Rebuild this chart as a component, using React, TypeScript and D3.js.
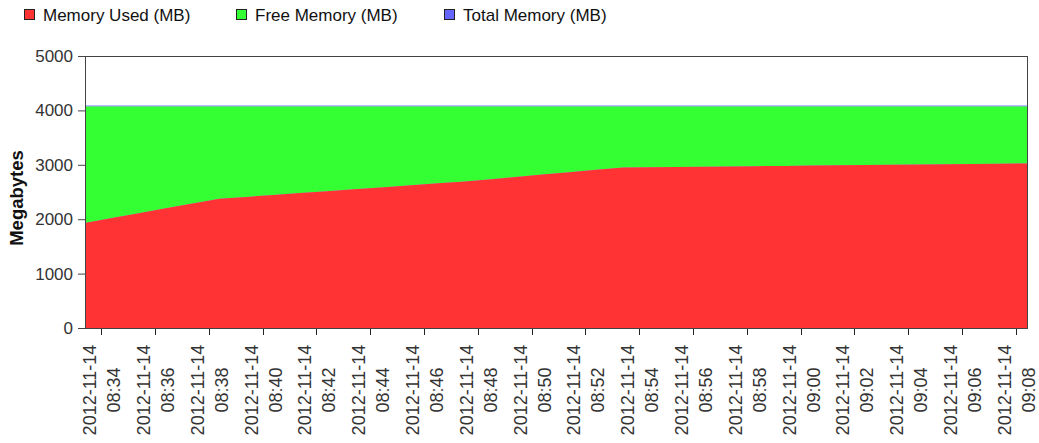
import React from "react";
import * as d3 from "d3";

const times = [
  "08:33:24", "08:34:24", "08:35:24", "08:36:24", "08:37:24", "08:38:24",
  "08:39:24", "08:40:24", "08:41:24", "08:42:24", "08:43:24", "08:44:24",
  "08:45:24", "08:46:24", "08:47:24", "08:48:24", "08:49:24", "08:50:24",
  "08:51:24", "08:52:24", "08:53:24", "08:54:24", "08:55:24", "08:56:24",
  "08:57:24", "08:58:24", "08:59:24", "09:00:24", "09:01:24", "09:02:24",
  "09:03:24", "09:04:24", "09:05:24", "09:06:24", "09:07:24", "09:08:25",
];
const memoryUsed = [
  1930, 2020, 2110, 2200, 2290, 2375, 2410, 2445, 2480, 2515, 2550, 2585,
  2620, 2655, 2690, 2730, 2775, 2820, 2865, 2910, 2950, 2955, 2960, 2965,
  2970, 2975, 2980, 2985, 2990, 2995, 3000, 3005, 3010, 3015, 3020, 3025,
];
const freeMemory = [
  2140, 2050, 1960, 1870, 1780, 1695, 1660, 1625, 1590, 1555, 1520, 1485,
  1450, 1415, 1380, 1340, 1295, 1250, 1205, 1160, 1120, 1115, 1110, 1105,
  1100, 1095, 1090, 1085, 1080, 1075, 1070, 1065, 1060, 1055, 1050, 1045,
];
const totalMemory = [
  4096, 4096, 4096, 4096, 4096, 4096, 4096, 4096, 4096, 4096, 4096, 4096,
  4096, 4096, 4096, 4096, 4096, 4096, 4096, 4096, 4096, 4096, 4096, 4096,
  4096, 4096, 4096, 4096, 4096, 4096, 4096, 4096, 4096, 4096, 4096, 4096,
];
const yTicks = [0, 1000, 2000, 3000, 4000, 5000];
const xTickTimes = [
  "08:34", "08:36", "08:38", "08:40", "08:42", "08:44", "08:46", "08:48",
  "08:50", "08:52", "08:54", "08:56", "08:58", "09:00", "09:02", "09:04",
  "09:06", "09:08",
];
const dateLabel = "2012-11-14";
const seriesNames = ["Memory Used (MB)", "Free Memory (MB)", "Total Memory (MB)"];
const seriesColors = ["#ff3333", "#33ff33", "#6666ff"];
const yTitle = "Megabytes";

const W = 1039;
const H = 443;
const M = { left: 85, right: 1027, top: 56, bottom: 328 };
const FONT = "'Liberation Sans', Arial, Helvetica, sans-serif";

const parse = d3.timeParse("%Y-%m-%d %H:%M:%S");
const parseTick = d3.timeParse("%Y-%m-%d %H:%M");

export default function App() {
  const dates = times.map((t) => parse(`${dateLabel} ${t}`) as Date);
  const rows = dates.map((d, i) => ({
    d,
    used: memoryUsed[i],
    free: freeMemory[i],
    total: totalMemory[i],
  }));
  const x = d3
    .scaleTime()
    .domain(d3.extent(dates) as [Date, Date])
    .range([M.left, M.right]);
  const y = d3.scaleLinear().domain([0, 5000]).range([M.bottom, M.top]);

  const totalArea = d3
    .area<(typeof rows)[number]>()
    .x((r) => x(r.d))
    .y0(() => y(0))
    .y1((r) => y(r.total));
  const freeArea = d3
    .area<(typeof rows)[number]>()
    .x((r) => x(r.d))
    .y0((r) => y(r.used))
    .y1((r) => y(r.used + r.free));
  const usedArea = d3
    .area<(typeof rows)[number]>()
    .x((r) => x(r.d))
    .y0(() => y(0))
    .y1((r) => y(r.used));

  const legendX = [24, 236, 444];

  return (
    <div style={{ position: "absolute", left: 0, top: 0 }}>
      <svg width={W} height={H} style={{ display: "block", background: "#fff" }} fontFamily={FONT}>
        {/* legend */}
        {seriesNames.map((n, i) => (
          <g key={n}>
            <rect
              x={legendX[i] + 0.5}
              y={9.5}
              width={10}
              height={10}
              fill={seriesColors[i]}
              stroke="#222"
              strokeWidth={1}
            />
            <text x={legendX[i] + 19} y={21} fontSize={17} fill="#111">
              {n}
            </text>
          </g>
        ))}

        {/* areas */}
        <path d={totalArea(rows) ?? ""} fill={seriesColors[2]} fillOpacity={0.6} />
        <path d={freeArea(rows) ?? ""} fill={seriesColors[1]} />
        <path d={usedArea(rows) ?? ""} fill={seriesColors[0]} />

        {/* plot outline */}
        <rect
          x={M.left + 0.5}
          y={M.top + 0.5}
          width={M.right - M.left}
          height={M.bottom - M.top}
          fill="none"
          stroke="#444"
          strokeWidth={1}
        />

        {/* y axis */}
        {yTicks.map((t) => (
          <g key={t}>
            <line x1={78} x2={M.left} y1={y(t) + 0.5} y2={y(t) + 0.5} stroke="#444" />
            <text x={73} y={y(t) + 6} fontSize={17} textAnchor="end" fill="#333">
              {t}
            </text>
          </g>
        ))}
        <text
          transform={`translate(23,${(M.top + M.bottom) / 2 + 6}) rotate(-90)`}
          fontSize={18.5}
          fontWeight="bold"
          textAnchor="middle"
          fill="#111"
        >
          {yTitle}
        </text>

        {/* x axis */}
        {xTickTimes.map((t) => {
          const px = Math.round(x(parseTick(`${dateLabel} ${t}`) as Date)) + 0.5;
          return (
            <g key={t}>
              <line x1={px} x2={px} y1={M.bottom + 1} y2={M.bottom + 7} stroke="#222" />
              <text
                transform={`translate(${px - 6},390) rotate(-90)`}
                fontSize={18}
                textAnchor="middle"
                fill="#333"
              >
                {dateLabel}
              </text>
              <text
                transform={`translate(${px + 18},390) rotate(-90)`}
                fontSize={18}
                textAnchor="middle"
                fill="#333"
              >
                {t}
              </text>
            </g>
          );
        })}
      </svg>
    </div>
  );
}
